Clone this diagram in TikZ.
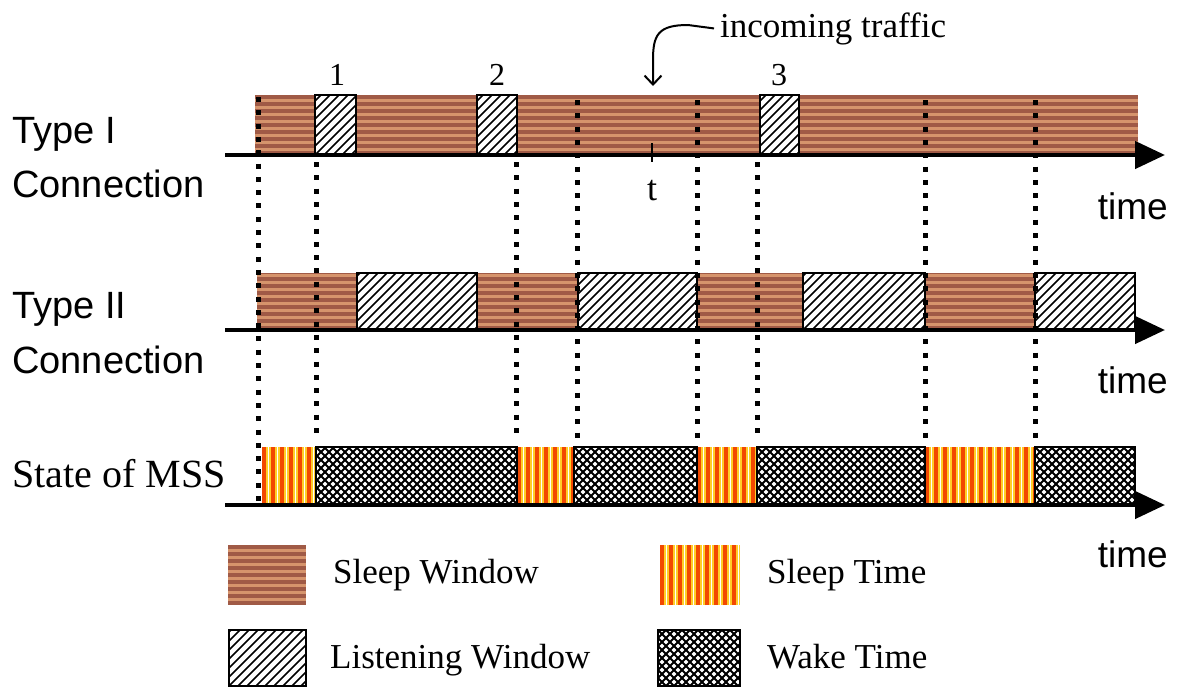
\documentclass[tikz,border=0pt]{standalone}
\usepackage{fontspec}
\setmainfont{Liberation Serif}
\setsansfont{Liberation Sans}
\usepackage{xcolor}
\usepackage{tikz}
\usetikzlibrary{arrows.meta}
\definecolor{swlight}{RGB}{214,148,108}
\definecolor{swdark}{RGB}{160,90,70}
\definecolor{stlight}{RGB}{255,205,40}
\definecolor{stdark}{RGB}{242,72,0}

\begin{document}
\begin{tikzpicture}[x=1pt, y=-1pt,
    sleepwin/.style={fill=swlight, path picture={
        \foreach \k in {0,...,9}
          \draw[swdark, line width=3.2pt]
            ([yshift=\k*7pt+2pt]path picture bounding box.south west) --
            ([yshift=\k*7pt+2pt]path picture bounding box.south east);}},
    listenwin/.style={draw, line width=2.5pt, fill=white, path picture={
        \foreach \k in {-8,...,16}
          \draw[line width=1.7pt]
            ([xshift=\k*9pt]path picture bounding box.south west) -- ++(80pt,80pt);}},
    sleeptime/.style={fill=stlight, path picture={
        \foreach \k in {0,...,13} {
          \draw[stdark, line width=3.5pt]
            ([xshift=\k*9pt+2pt]path picture bounding box.south west) --
            ([xshift=\k*9pt+2pt]path picture bounding box.north west);
          \draw[white, line width=1.5pt]
            ([xshift=\k*9pt+6.5pt]path picture bounding box.south west) --
            ([xshift=\k*9pt+6.5pt]path picture bounding box.north west);}}},
    waketime/.style={draw, line width=2.5pt, fill=white, path picture={
        \foreach \k in {-9,...,30} {
          \draw[line width=2pt]
            ([xshift=\k*8pt]path picture bounding box.south west) -- ++(80pt,80pt);
          \draw[line width=2pt]
            ([xshift=\k*8pt]path picture bounding box.north west) -- ++(80pt,-80pt);}}},
    dotline/.style={line width=5pt, dash pattern=on 5pt off 8.3pt},
    axis/.style={line width=4.5pt, -{Triangle[length=30pt,width=27pt]}},
    sidelbl/.style={font=\sffamily\fontsize{38}{44}\selectfont, anchor=base west, inner sep=0pt},
    timelbl/.style={font=\sffamily\fontsize{37}{44}\selectfont, anchor=base east, inner sep=0pt},
    numlbl/.style={font=\fontsize{32}{38}\selectfont, anchor=base, inner sep=0pt},
    keylbl/.style={font=\fontsize{35}{42}\selectfont, anchor=base west, inner sep=0pt},
]
\useasboundingbox (0,0) rectangle (1184,688);

\path[sleepwin] (255,95) rectangle (1138,155);
\foreach \a/\b in {315/356, 477/517, 760/799}
  \path[listenwin] (\a,95) rectangle (\b,155);

\foreach \a/\b in {257/357, 477/578, 697/803, 925/1035}
  \path[sleepwin] (\a,273) rectangle (\b,330);
\foreach \a/\b in {357/477, 578/697, 803/925, 1035/1135}
  \path[listenwin] (\a,273) rectangle (\b,330);

\foreach \a/\b in {262/316, 517/574, 697/757, 925/1035}
  \path[sleeptime] (\a,447) rectangle (\b,505);
\foreach \a/\b in {316/517, 574/697, 757/925, 1035/1135}
  \path[waketime] (\a,447) rectangle (\b,505);

\draw[dotline] (258,97) -- (258,505);
\foreach \x in {577, 697, 925, 1035}
  \draw[dotline] (\x,100) -- (\x,440);
\foreach \x in {316, 516, 757}
  \draw[dotline] (\x,162) -- (\x,440);

\draw[axis] (225,155) -- (1165,155);
\draw[axis] (225,330) -- (1165,330);
\draw[axis] (225,505) -- (1165,505);

\node[sidelbl] (typea)  at (12,143) {Type I};
\node[sidelbl] (conna)  at (12,197) {Connection};
\node[sidelbl] (typeb)  at (12,318) {Type II};
\node[sidelbl] (connb)  at (12,373) {Connection};
\node[keylbl, font=\fontsize{40}{46}\selectfont] (mss) at (12,487) {State of MSS};

\node[timelbl] (timea) at (1168,219) {time};
\node[timelbl] (timeb) at (1168,393) {time};
\node[timelbl] (timec) at (1168,567) {time};

\node[numlbl] (lw1) at (337,85) {1};
\node[numlbl] (lw2) at (497,85) {2};
\node[numlbl] (lw3) at (779,85) {3};

\draw[line width=2.5pt] (652,143) -- (652,162);
\node[numlbl, font=\fontsize{36}{42}\selectfont] (tmark) at (652,200) {t};

\node[keylbl] (traffic) at (720,37) {incoming traffic};
\coordinate (arrtip) at (653,86);
\draw[line width=2pt, -{Straight Barb[length=9pt,width=17pt]}]
  ([xshift=-6pt]traffic.west) -- (688,25) .. controls (658,25) and (653,35) .. (653,60) -- (arrtip);

\path[sleepwin]  (228,545) rectangle (306,605);
\path[listenwin] (229,630) rectangle (306,686);
\path[sleeptime] (660,545) rectangle (740,605);
\path[waketime]  (658,630) rectangle (740,686);

\node[keylbl] (kswin)  at (333,583) {Sleep Window};
\node[keylbl] (klwin)  at (330,668) {Listening Window};
\node[keylbl] (kstime) at (767,583) {Sleep Time};
\node[keylbl] (kwtime) at (767,668) {Wake Time};
\end{tikzpicture}
\end{document}
